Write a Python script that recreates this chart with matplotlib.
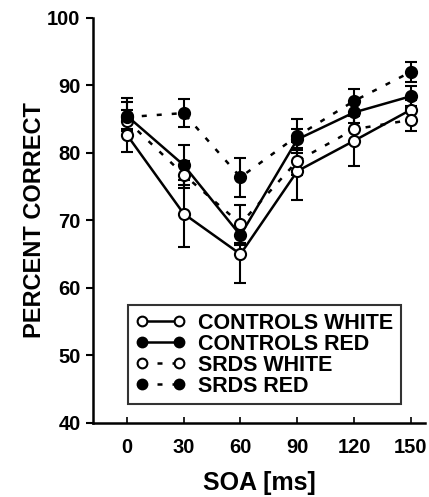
import matplotlib
matplotlib.use('Agg')
import matplotlib.pyplot as plt
from matplotlib.lines import Line2D

plt.rcParams['font.family'] = ['Liberation Sans', 'DejaVu Sans']
plt.rcParams['font.weight'] = 'bold'

soa = [0, 30, 60, 90, 120, 150]
soa_labels = ['0', '30', '60', '90', '120', '150']

controls_white = [82.7, 71.0, 65.0, 77.3, 81.8, 86.4]
controls_white_err = [2.5, 5.0, 4.2, 4.3, 3.8, 1.5]
controls_red = [85.5, 78.2, 67.8, 82.0, 86.0, 88.4]
controls_red_err = [2.0, 3.0, 1.5, 1.5, 1.5, 1.5]
srds_white = [84.8, 76.8, 69.5, 78.8, 83.5, 84.9]
srds_white_err = [1.5, 2.0, 2.8, 2.0, 2.0, 1.7]
srds_red = [85.3, 85.9, 76.4, 82.5, 87.7, 92.0]
srds_red_err = [2.8, 2.1, 2.9, 2.5, 1.7, 1.5]

fig = plt.figure(figsize=(4.29, 4.97), dpi=100)
ax = fig.add_axes([0.217, 0.149, 0.774, 0.815])

dash = (0, (2, 4))
series = [
    (controls_white, controls_white_err, 'white', '-', 'CONTROLS WHITE'),
    (controls_red, controls_red_err, 'black', '-', 'CONTROLS RED'),
    (srds_white, srds_white_err, 'white', dash, 'SRDS WHITE'),
    (srds_red, srds_red_err, 'black', dash, 'SRDS RED'),
]
handles = []
for vals, err, face, ls, lab in series:
    ax.errorbar(soa, vals, yerr=err, color='black', ls=ls, lw=1.8,
                marker='o', ms=8, mfc=face, mec='black', mew=1.5,
                elinewidth=1.5, capsize=4, capthick=1.5)
    handles.append(Line2D([], [], color='black', ls=ls, lw=1.8, marker='o',
                          ms=7, mfc=face, mec='black', mew=1.5, label=lab))

ax.set_xlim(-17.8, 157.5)
ax.set_ylim(40, 100)
ax.set_xticks(soa)
ax.set_xticklabels(soa_labels)
ax.set_yticks([40, 50, 60, 70, 80, 90, 100])
for s in ['top', 'right']:
    ax.spines[s].set_visible(False)
for s in ['left', 'bottom']:
    ax.spines[s].set_linewidth(1.8)
ax.tick_params(axis='x', direction='in', length=4, width=1.2, labelsize=14.5, pad=11)
ax.tick_params(axis='y', direction='out', length=5, width=1.5, labelsize=14.5, pad=4)
for t in ax.get_xticklabels() + ax.get_yticklabels():
    t.set_fontweight('bold')

ax.set_xlabel('SOA [ms]', fontsize=18, fontweight='bold', labelpad=10)
ax.set_ylabel('PERCENT CORRECT', fontsize=17, fontweight='bold', labelpad=1)

# legend: line with a marker at each end, no error bars
leg = ax.legend(handles=handles, loc='upper left', bbox_to_anchor=(0.105, 0.291),
                numpoints=2, handlelength=2.3, frameon=True, fancybox=False,
                borderpad=0.35, labelspacing=0.0, handletextpad=0.6,
                borderaxespad=0, prop={'weight': 'bold', 'size': 15.5})
leg.get_frame().set_edgecolor('black')
leg.get_frame().set_linewidth(1.5)

plt.savefig('out.png', dpi=100)
